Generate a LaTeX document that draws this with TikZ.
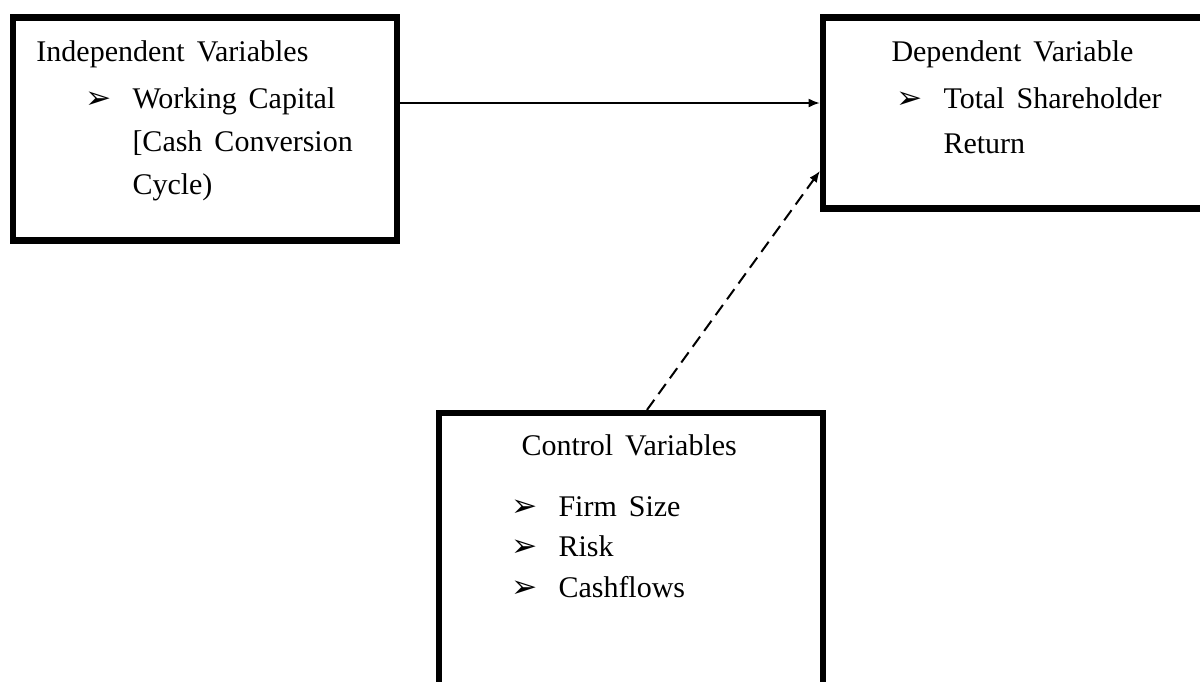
\documentclass[tikz,border=0pt]{standalone}
\usepackage{fontspec}
\setmainfont{Liberation Serif}[WordSpace=1.6]
\newfontfamily\symfont{DejaVu Sans}
\usetikzlibrary{fit,arrows.meta}

\tikzset{
  frame/.style={draw=black, line width=2.5pt, inner sep=0pt},
  label/.style={anchor=base west, inner sep=0pt, font=\fontsize{12}{14}\selectfont},
  bullet/.style={anchor=base west, inner sep=0pt, font=\symfont\fontsize{12.5}{14}\selectfont},
  link/.style={line width=0.8pt, -{Latex[length=4.5pt,width=3.6pt]}},
  dashlink/.style={link, dash pattern=on 5pt off 2.8pt},
}

\begin{document}
\begin{tikzpicture}[x=0.4pt, y=-0.4pt]
  \path[fill=white] (0,0) rectangle (1200,681);
  \useasboundingbox (0,0) rectangle (1200,681);

  % the three boxes
  \node[frame, fit={(13,17.5) (397,240.5)}] (indep) {};
  \node[frame, fit={(823,17.5) (1240,208.5)}] (dep) {};
  \node[frame, fit={(439,413) (823,720)}] (ctrl) {};

  % independent variables
  \node[label] (indepT) at (36,61) {Independent Variables};
  \node[bullet] (indepB) at (85,108) {➢};
  \node[label] (indep1) at (132,108) {Working Capital};
  \node[label] (indep2) at (132,151) {[Cash Conversion};
  \node[label] (indep3) at (132,194) {Cycle)};

  % dependent variable
  \node[bullet] (depB) at (896,108) {➢};
  \node[label] (depT) at (891,61) {Dependent Variable};
  \node[label] (dep1) at (943,108) {Total Shareholder};
  \node[label] (dep2) at (943,153) {Return};

  % control variables
  \node[label] (ctrlT) at (521,455) {Control Variables};
  \node[bullet] (ctrlB1) at (511,516) {➢};
  \node[label] (ctrl1) at (558,516) {Firm Size};
  \node[bullet] (ctrlB2) at (511,556) {➢};
  \node[label] (ctrl2) at (558,556) {Risk};
  \node[bullet] (ctrlB3) at (511,597) {➢};
  \node[label] (ctrl3) at (558,597) {Cashflows};

  % connectors
  \draw[link] (indep.east |- 0,103) -- (dep.west |- 0,103);
  \draw[dashlink] (ctrl.north -| 647,0) -- (dep.west |- 0,171);
\end{tikzpicture}
\end{document}
